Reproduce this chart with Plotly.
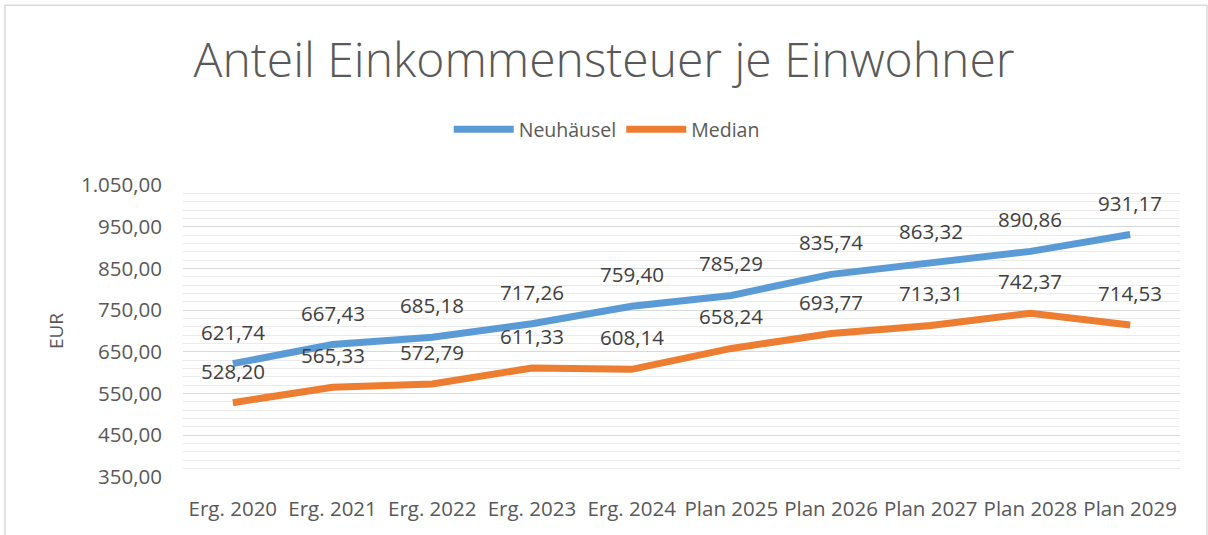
import plotly.graph_objects as go

categories = ["Erg. 2020", "Erg. 2021", "Erg. 2022", "Erg. 2023", "Erg. 2024",
              "Plan 2025", "Plan 2026", "Plan 2027", "Plan 2028", "Plan 2029"]
neuhaeusel = [621.74, 667.43, 685.18, 717.26, 759.40, 785.29, 835.74, 863.32, 890.86, 931.17]
median = [528.20, 565.33, 572.79, 611.33, 608.14, 658.24, 693.77, 713.31, 742.37, 714.53]
y_ticks = [350, 450, 550, 650, 750, 850, 950, 1050]


def de(v):
    s = f"{v:,.2f}"
    return s.replace(",", "X").replace(".", ",").replace("X", ".")


FONT = "Open Sans"
BLUE = "#5B9BD5"
ORANGE = "#ED7D31"

fig = go.Figure()
fig.add_trace(go.Scatter(x=categories, y=neuhaeusel, name="Neuhäusel", mode="lines",
                         line=dict(color=BLUE, width=7), hoverinfo="skip"))
fig.add_trace(go.Scatter(x=categories, y=median, name="Median", mode="lines",
                         line=dict(color=ORANGE, width=7), hoverinfo="skip"))

annotations = []
for series in (neuhaeusel, median):
    for c, v in zip(categories, series):
        annotations.append(dict(x=c, y=v, xref="x", yref="y", text=de(v), showarrow=False,
                                yshift=32, font=dict(family=FONT, size=20.5, color="#404040")))

fig.update_layout(
    width=1208, height=535,
    margin=dict(l=183, r=28, t=185, b=58),
    paper_bgcolor="white", plot_bgcolor="white",
    separators=",.",
    title=dict(text="Anteil Einkommensteuer je Einwohner", x=0.5, xanchor="center",
               y=0.888, yanchor="middle",
               font=dict(family=FONT, size=48, color="#595959", weight=300)),
    legend=dict(orientation="h", x=0.425, xanchor="center", y=1.19, yanchor="middle",
                font=dict(family=FONT, size=19.5, color="#595959"), itemwidth=60),
    xaxis=dict(type="category", range=[-0.5, 9.5], showgrid=False, showline=False, ticks="",
               tickfont=dict(family=FONT, size=20.5, color="#595959"), fixedrange=True,
               ticklabelstandoff=17),
    yaxis=dict(range=[350, 1050], tickvals=y_ticks, tickformat=",.2f",
               showgrid=True, gridcolor="#D9D9D9", gridwidth=1.3, zeroline=False,
               minor=dict(dtick=20, tick0=350, showgrid=True, gridcolor="#EBEBEB", gridwidth=1.3),
               tickfont=dict(family=FONT, size=20.5, color="#595959"), ticks="", ticklabelstandoff=20,
               title=dict(text="EUR", font=dict(family=FONT, size=19, color="#595959"), standoff=12),
               fixedrange=True),
    annotations=annotations,
    shapes=[dict(type="rect", xref="paper", yref="paper", x0=-0.1785, x1=1.027, y0=-0.25, y1=1.616,
                 line=dict(color="#D9D9D9", width=1.5), fillcolor="rgba(0,0,0,0)", layer="below")],
    showlegend=True,
)

fig.write_html("out.html", config={"displayModeBar": False},
               post_script="document.body.style.margin='0';document.body.style.overflow='hidden';")
